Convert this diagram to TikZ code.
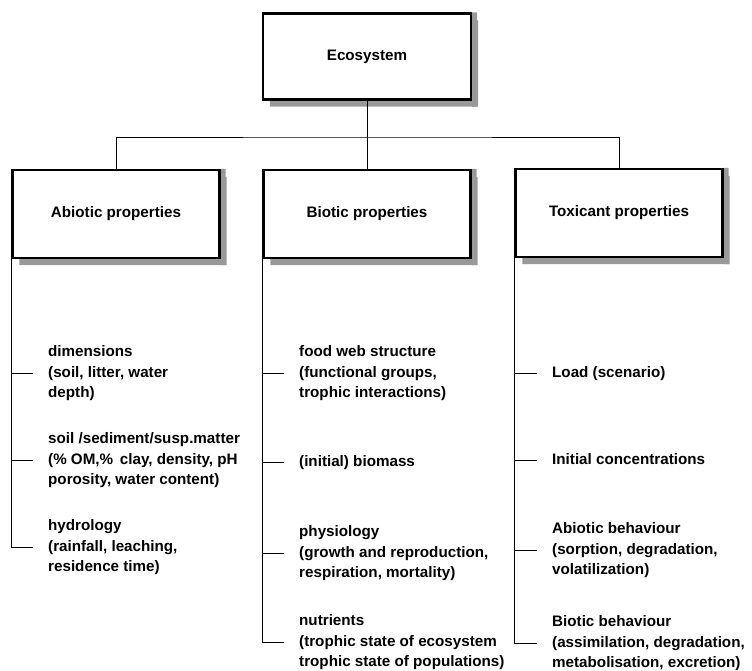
\documentclass[tikz,border=0pt]{standalone}
\usepackage{fontspec}
\setmainfont{Liberation Sans}
\usetikzlibrary{backgrounds}
\begin{document}
\begin{tikzpicture}[x=1pt,y=-1pt,
  font=\fontsize{15.2}{20.5}\selectfont\bfseries,
  line width=2.4pt,
  box/.style={draw=black, fill=white, minimum width=207pt, minimum height=88pt, inner sep=0pt},
  shade box/.style={fill=black!40, draw=none},
  item/.style={anchor=west, align=left, inner sep=0pt},
  tick/.style={shorten >=15pt}]
\useasboundingbox (0,0) rectangle (752,671);

% top level and the three property groups
\node[box, minimum width=208pt, minimum height=86pt] (eco) at (367,56.5) {Ecosystem};
\node[box] (ab) at (116,214) {Abiotic properties};
\node[box] (bi) at (367,214) {Biotic properties};
\node[box] (tx) at (619,213) {Toxicant properties};

% stippled drop shadows behind the boxes
\begin{pgfonlayer}{background}
  \foreach \b in {eco,ab,bi,tx}
    \fill[shade box] ([shift={(8,0)}]\b.south west) rectangle ([shift={(5,8)}]\b.north east)
                     ([shift={(0,6)}]\b.south west -| \b.south east) rectangle ([shift={(5,0)}]\b.north east);
  \foreach \b in {eco,ab,bi,tx}
    \fill[shade box] ([shift={(8,-1)}]\b.south west) rectangle ([shift={(6,6)}]\b.south east)
                     ([shift={(-1,8)}]\b.north east) rectangle ([shift={(6,6)}]\b.south east);
\end{pgfonlayer}

% tree connectors
\coordinate (bar) at (367,137);
\draw (eco.south) -- (bar);
\draw (ab.north) |- (bar) -| (tx.north);
\draw (bar) -- (bi.north);

% abiotic items
\node[item] (a1) at (48,373) {\strut dimensions\\\strut (soil, litter, water\\\strut depth)};
\node[item] (a2) at (48,460) {\strut soil /sediment/susp.matter\\\strut (\% OM,\% \,clay, density, pH\\\strut porosity, water content)};
\node[item] (a3) at (48,547) {\strut hydrology\\\strut (rainfall, leaching,\\\strut residence time)};

% biotic items
\node[item] (b1) at (299,373) {\strut food web structure\\\strut (functional groups,\\\strut trophic interactions)};
\node[item] (b2) at (299,462) {\strut (initial) biomass};
\node[item] (b3) at (299,553) {\strut physiology\\\strut (growth and reproduction,\\\strut respiration, mortality)};
\node[item] (b4) at (299,642) {\strut nutrients\\\strut (trophic state of ecosystem\\\strut trophic state of populations)};

% toxicant items
\node[item] (t1) at (552,373) {\strut Load (scenario)};
\node[item] (t2) at (552,460) {\strut Initial concentrations};
\node[item] (t3) at (552,550) {\strut Abiotic behaviour\\\strut (sorption, degradation,\\\strut volatilization)};
\node[item] (t4) at (552,643) {\strut Biotic behaviour\\\strut (assimilation, degradation,\\\strut metabolisation, excretion)};

% branch lines
\draw[tick] (ab.south west) |- (a3.west);
\draw[tick] (a1.west -| ab.west) -- (a1.west);
\draw[tick] (a2.west -| ab.west) -- (a2.west);

\draw[tick] (bi.south west) |- (b4.west);
\draw[tick] (b1.west -| bi.west) -- (b1.west);
\draw[tick] (b2.west -| bi.west) -- (b2.west);
\draw[tick] (b3.west -| bi.west) -- (b3.west);

\draw[tick] (tx.south west) |- (t4.west);
\draw[tick] (t1.west -| tx.west) -- (t1.west);
\draw[tick] (t2.west -| tx.west) -- (t2.west);
\draw[tick] (t3.west -| tx.west) -- (t3.west);
\end{tikzpicture}
\end{document}
